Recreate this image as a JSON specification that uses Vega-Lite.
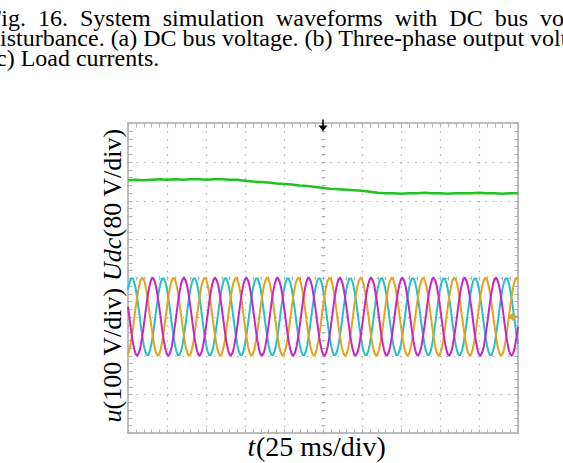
{
"$schema": "https://vega.github.io/schema/vega-lite/v6.json",
"width": 390, "height": 310,
"autosize": "none",
"padding": {"left": 128, "top": 123, "right": 45, "bottom": 30},
"background": "white",
"title": {"text": ["Fig. \u00a016. \u00a0System \u00a0simulation \u00a0waveforms \u00a0with \u00a0DC \u00a0bus \u00a0voltage", "disturbance. (a) DC bus voltage. (b) Three-phase output voltages.", "(c) Load currents."], "anchor": "start", "frame": "group", "dx": -140, "offset": 30, "font": "Liberation Serif", "fontSize": 24, "fontWeight": "normal", "color": "#000000", "lineHeight": 20, "baseline": "alphabetic"},
"config": {
  "view": {"stroke": "#bdbdbd", "strokeWidth": 2},
  "axis": {"labels": false, "domain": false, "grid": false, "ticks": true, "tickColor": "#b3b3b3", "tickSize": 4, "tickWidth": 1, "titleFont": "Liberation Serif", "titleFontSize": 26, "titleFontWeight": "normal", "titleColor": "#000000", "gridColor": "#b3b3b3", "gridDash": [1.5, 6.25], "gridWidth": 1.2}
},
"resolve": {"scale": {"y": "independent"}, "axis": {"x": "independent", "y": "independent"}},
"layer": [
{
 "data": {"values": [
{"t":0,"a":71,"b":-97,"c":26},{"t":1,"a":89,"b":-84,"c":-5},{"t":2,"a":99,"b":-63,"c":-36},{"t":3,"a":99,"b":-36,"c":-63},{"t":4,"a":89,"b":-5,"c":-84},{"t":5,"a":71,"b":26,"c":-97},{"t":6,"a":45,"b":54,"c":-100},{"t":7,"a":16,"b":78,"c":-93},{"t":8,"a":-16,"b":93,"c":-78},{"t":9,"a":-45,"b":100,"c":-54},{"t":10,"a":-71,"b":97,"c":-26},{"t":11,"a":-89,"b":84,"c":5},{"t":12,"a":-99,"b":63,"c":36},{"t":13,"a":-99,"b":36,"c":63},{"t":14,"a":-89,"b":5,"c":84},{"t":15,"a":-71,"b":-26,"c":97},{"t":16,"a":-45,"b":-54,"c":100},{"t":17,"a":-16,"b":-78,"c":93},{"t":18,"a":16,"b":-93,"c":78},{"t":19,"a":45,"b":-100,"c":54},
{"t":20,"a":71,"b":-97,"c":26},{"t":21,"a":89,"b":-84,"c":-5},{"t":22,"a":99,"b":-63,"c":-36},{"t":23,"a":99,"b":-36,"c":-63},{"t":24,"a":89,"b":-5,"c":-84},{"t":25,"a":71,"b":26,"c":-97},{"t":26,"a":45,"b":54,"c":-100},{"t":27,"a":16,"b":78,"c":-93},{"t":28,"a":-16,"b":93,"c":-78},{"t":29,"a":-45,"b":100,"c":-54},{"t":30,"a":-71,"b":97,"c":-26},{"t":31,"a":-89,"b":84,"c":5},{"t":32,"a":-99,"b":63,"c":36},{"t":33,"a":-99,"b":36,"c":63},{"t":34,"a":-89,"b":5,"c":84},{"t":35,"a":-71,"b":-26,"c":97},{"t":36,"a":-45,"b":-54,"c":100},{"t":37,"a":-16,"b":-78,"c":93},{"t":38,"a":16,"b":-93,"c":78},{"t":39,"a":45,"b":-100,"c":54},
{"t":40,"a":71,"b":-97,"c":26},{"t":41,"a":89,"b":-84,"c":-5},{"t":42,"a":99,"b":-63,"c":-36},{"t":43,"a":99,"b":-36,"c":-63},{"t":44,"a":89,"b":-5,"c":-84},{"t":45,"a":71,"b":26,"c":-97},{"t":46,"a":45,"b":54,"c":-100},{"t":47,"a":16,"b":78,"c":-93},{"t":48,"a":-16,"b":93,"c":-78},{"t":49,"a":-45,"b":100,"c":-54},{"t":50,"a":-71,"b":97,"c":-26},{"t":51,"a":-89,"b":84,"c":5},{"t":52,"a":-99,"b":63,"c":36},{"t":53,"a":-99,"b":36,"c":63},{"t":54,"a":-89,"b":5,"c":84},{"t":55,"a":-71,"b":-26,"c":97},{"t":56,"a":-45,"b":-54,"c":100},{"t":57,"a":-16,"b":-78,"c":93},{"t":58,"a":16,"b":-93,"c":78},{"t":59,"a":45,"b":-100,"c":54},
{"t":60,"a":71,"b":-97,"c":26},{"t":61,"a":89,"b":-84,"c":-5},{"t":62,"a":99,"b":-63,"c":-36},{"t":63,"a":99,"b":-36,"c":-63},{"t":64,"a":89,"b":-5,"c":-84},{"t":65,"a":71,"b":26,"c":-97},{"t":66,"a":45,"b":54,"c":-100},{"t":67,"a":16,"b":78,"c":-93},{"t":68,"a":-16,"b":93,"c":-78},{"t":69,"a":-45,"b":100,"c":-54},{"t":70,"a":-71,"b":97,"c":-26},{"t":71,"a":-89,"b":84,"c":5},{"t":72,"a":-99,"b":63,"c":36},{"t":73,"a":-99,"b":36,"c":63},{"t":74,"a":-89,"b":5,"c":84},{"t":75,"a":-71,"b":-26,"c":97},{"t":76,"a":-45,"b":-54,"c":100},{"t":77,"a":-16,"b":-78,"c":93},{"t":78,"a":16,"b":-93,"c":78},{"t":79,"a":45,"b":-100,"c":54},
{"t":80,"a":71,"b":-97,"c":26},{"t":81,"a":89,"b":-84,"c":-5},{"t":82,"a":99,"b":-63,"c":-36},{"t":83,"a":99,"b":-36,"c":-63},{"t":84,"a":89,"b":-5,"c":-84},{"t":85,"a":71,"b":26,"c":-97},{"t":86,"a":45,"b":54,"c":-100},{"t":87,"a":16,"b":78,"c":-93},{"t":88,"a":-16,"b":93,"c":-78},{"t":89,"a":-45,"b":100,"c":-54},{"t":90,"a":-71,"b":97,"c":-26},{"t":91,"a":-89,"b":84,"c":5},{"t":92,"a":-99,"b":63,"c":36},{"t":93,"a":-99,"b":36,"c":63},{"t":94,"a":-89,"b":5,"c":84},{"t":95,"a":-71,"b":-26,"c":97},{"t":96,"a":-45,"b":-54,"c":100},{"t":97,"a":-16,"b":-78,"c":93},{"t":98,"a":16,"b":-93,"c":78},{"t":99,"a":45,"b":-100,"c":54},
{"t":100,"a":71,"b":-97,"c":26},{"t":101,"a":89,"b":-84,"c":-5},{"t":102,"a":99,"b":-63,"c":-36},{"t":103,"a":99,"b":-36,"c":-63},{"t":104,"a":89,"b":-5,"c":-84},{"t":105,"a":71,"b":26,"c":-97},{"t":106,"a":45,"b":54,"c":-100},{"t":107,"a":16,"b":78,"c":-93},{"t":108,"a":-16,"b":93,"c":-78},{"t":109,"a":-45,"b":100,"c":-54},{"t":110,"a":-71,"b":97,"c":-26},{"t":111,"a":-89,"b":84,"c":5},{"t":112,"a":-99,"b":63,"c":36},{"t":113,"a":-99,"b":36,"c":63},{"t":114,"a":-89,"b":5,"c":84},{"t":115,"a":-71,"b":-26,"c":97},{"t":116,"a":-45,"b":-54,"c":100},{"t":117,"a":-16,"b":-78,"c":93},{"t":118,"a":16,"b":-93,"c":78},{"t":119,"a":45,"b":-100,"c":54},
{"t":120,"a":71,"b":-97,"c":26},{"t":121,"a":89,"b":-84,"c":-5},{"t":122,"a":99,"b":-63,"c":-36},{"t":123,"a":99,"b":-36,"c":-63},{"t":124,"a":89,"b":-5,"c":-84},{"t":125,"a":71,"b":26,"c":-97},{"t":126,"a":45,"b":54,"c":-100},{"t":127,"a":16,"b":78,"c":-93},{"t":128,"a":-16,"b":93,"c":-78},{"t":129,"a":-45,"b":100,"c":-54},{"t":130,"a":-71,"b":97,"c":-26},{"t":131,"a":-89,"b":84,"c":5},{"t":132,"a":-99,"b":63,"c":36},{"t":133,"a":-99,"b":36,"c":63},{"t":134,"a":-89,"b":5,"c":84},{"t":135,"a":-71,"b":-26,"c":97},{"t":136,"a":-45,"b":-54,"c":100},{"t":137,"a":-16,"b":-78,"c":93},{"t":138,"a":16,"b":-93,"c":78},{"t":139,"a":45,"b":-100,"c":54},
{"t":140,"a":71,"b":-97,"c":26},{"t":141,"a":89,"b":-84,"c":-5},{"t":142,"a":99,"b":-63,"c":-36},{"t":143,"a":99,"b":-36,"c":-63},{"t":144,"a":89,"b":-5,"c":-84},{"t":145,"a":71,"b":26,"c":-97},{"t":146,"a":45,"b":54,"c":-100},{"t":147,"a":16,"b":78,"c":-93},{"t":148,"a":-16,"b":93,"c":-78},{"t":149,"a":-45,"b":100,"c":-54},{"t":150,"a":-71,"b":97,"c":-26},{"t":151,"a":-89,"b":84,"c":5},{"t":152,"a":-99,"b":63,"c":36},{"t":153,"a":-99,"b":36,"c":63},{"t":154,"a":-89,"b":5,"c":84},{"t":155,"a":-71,"b":-26,"c":97},{"t":156,"a":-45,"b":-54,"c":100},{"t":157,"a":-16,"b":-78,"c":93},{"t":158,"a":16,"b":-93,"c":78},{"t":159,"a":45,"b":-100,"c":54},
{"t":160,"a":71,"b":-97,"c":26},{"t":161,"a":89,"b":-84,"c":-5},{"t":162,"a":99,"b":-63,"c":-36},{"t":163,"a":99,"b":-36,"c":-63},{"t":164,"a":89,"b":-5,"c":-84},{"t":165,"a":71,"b":26,"c":-97},{"t":166,"a":45,"b":54,"c":-100},{"t":167,"a":16,"b":78,"c":-93},{"t":168,"a":-16,"b":93,"c":-78},{"t":169,"a":-45,"b":100,"c":-54},{"t":170,"a":-71,"b":97,"c":-26},{"t":171,"a":-89,"b":84,"c":5},{"t":172,"a":-99,"b":63,"c":36},{"t":173,"a":-99,"b":36,"c":63},{"t":174,"a":-89,"b":5,"c":84},{"t":175,"a":-71,"b":-26,"c":97},{"t":176,"a":-45,"b":-54,"c":100},{"t":177,"a":-16,"b":-78,"c":93},{"t":178,"a":16,"b":-93,"c":78},{"t":179,"a":45,"b":-100,"c":54},
{"t":180,"a":71,"b":-97,"c":26},{"t":181,"a":89,"b":-84,"c":-5},{"t":182,"a":99,"b":-63,"c":-36},{"t":183,"a":99,"b":-36,"c":-63},{"t":184,"a":89,"b":-5,"c":-84},{"t":185,"a":71,"b":26,"c":-97},{"t":186,"a":45,"b":54,"c":-100},{"t":187,"a":16,"b":78,"c":-93},{"t":188,"a":-16,"b":93,"c":-78},{"t":189,"a":-45,"b":100,"c":-54},{"t":190,"a":-71,"b":97,"c":-26},{"t":191,"a":-89,"b":84,"c":5},{"t":192,"a":-99,"b":63,"c":36},{"t":193,"a":-99,"b":36,"c":63},{"t":194,"a":-89,"b":5,"c":84},{"t":195,"a":-71,"b":-26,"c":97},{"t":196,"a":-45,"b":-54,"c":100},{"t":197,"a":-16,"b":-78,"c":93},{"t":198,"a":16,"b":-93,"c":78},{"t":199,"a":45,"b":-100,"c":54},
{"t":200,"a":71,"b":-97,"c":26},{"t":201,"a":89,"b":-84,"c":-5},{"t":202,"a":99,"b":-63,"c":-36},{"t":203,"a":99,"b":-36,"c":-63},{"t":204,"a":89,"b":-5,"c":-84},{"t":205,"a":71,"b":26,"c":-97},{"t":206,"a":45,"b":54,"c":-100},{"t":207,"a":16,"b":78,"c":-93},{"t":208,"a":-16,"b":93,"c":-78},{"t":209,"a":-45,"b":100,"c":-54},{"t":210,"a":-71,"b":97,"c":-26},{"t":211,"a":-89,"b":84,"c":5},{"t":212,"a":-99,"b":63,"c":36},{"t":213,"a":-99,"b":36,"c":63},{"t":214,"a":-89,"b":5,"c":84},{"t":215,"a":-71,"b":-26,"c":97},{"t":216,"a":-45,"b":-54,"c":100},{"t":217,"a":-16,"b":-78,"c":93},{"t":218,"a":16,"b":-93,"c":78},{"t":219,"a":45,"b":-100,"c":54},
{"t":220,"a":71,"b":-97,"c":26},{"t":221,"a":89,"b":-84,"c":-5},{"t":222,"a":99,"b":-63,"c":-36},{"t":223,"a":99,"b":-36,"c":-63},{"t":224,"a":89,"b":-5,"c":-84},{"t":225,"a":71,"b":26,"c":-97},{"t":226,"a":45,"b":54,"c":-100},{"t":227,"a":16,"b":78,"c":-93},{"t":228,"a":-16,"b":93,"c":-78},{"t":229,"a":-45,"b":100,"c":-54},{"t":230,"a":-71,"b":97,"c":-26},{"t":231,"a":-89,"b":84,"c":5},{"t":232,"a":-99,"b":63,"c":36},{"t":233,"a":-99,"b":36,"c":63},{"t":234,"a":-89,"b":5,"c":84},{"t":235,"a":-71,"b":-26,"c":97},{"t":236,"a":-45,"b":-54,"c":100},{"t":237,"a":-16,"b":-78,"c":93},{"t":238,"a":16,"b":-93,"c":78},{"t":239,"a":45,"b":-100,"c":54},
{"t":240,"a":71,"b":-97,"c":26},{"t":241,"a":89,"b":-84,"c":-5},{"t":242,"a":99,"b":-63,"c":-36},{"t":243,"a":99,"b":-36,"c":-63},{"t":244,"a":89,"b":-5,"c":-84},{"t":245,"a":71,"b":26,"c":-97},{"t":246,"a":45,"b":54,"c":-100},{"t":247,"a":16,"b":78,"c":-93},{"t":248,"a":-16,"b":93,"c":-78},{"t":249,"a":-45,"b":100,"c":-54},{"t":250,"a":-71,"b":97,"c":-26}
 ]},
 "transform": [{"fold": ["a", "b", "c"], "as": ["phase", "u"]}],
 "mark": {"type": "line", "strokeWidth": 2},
 "encoding": {
  "x": {"field": "t", "type": "quantitative", "scale": {"domain": [0, 250], "nice": false, "zero": false},
   "axis": {"orient": "bottom", "values": [0,25,50,75,100,125,150,175,200,225,250], "grid": true, "ticks": false, "title": "t", "titleFontStyle": "italic", "titleFontSize": 28, "titleX": 119, "titleY": 22.5, "titleAlign": "left", "titleBaseline": "alphabetic"}},
  "y": {"field": "u", "type": "quantitative", "scale": {"domain": [-300, 500], "nice": false, "zero": false},
   "axis": {"orient": "left", "values": [-300,-200,-100,0,100,200,300,400,500], "grid": true, "ticks": false, "title": "u", "titleFontStyle": "italic", "titleAngle": 270, "titleX": -8, "titleY": 299, "titleAlign": "left", "titleBaseline": "alphabetic"}},
  "color": {"field": "phase", "type": "nominal", "scale": {"domain": ["a", "b", "c"], "range": ["#22c3c6", "#e6a21a", "#c824c8"]}, "legend": null}
 }
},
{
 "data": {"values": [
{"t":0,"udc":202},{"t":5,"udc":203},{"t":10,"udc":202},{"t":15,"udc":203},{"t":20,"udc":204},{"t":25,"udc":203},{"t":30,"udc":204},{"t":35,"udc":203},{"t":40,"udc":204},{"t":45,"udc":204},{"t":50,"udc":203},{"t":55,"udc":204},{"t":60,"udc":204},{"t":65,"udc":203},{"t":70,"udc":203},{"t":75,"udc":201},{"t":80,"udc":199},{"t":85,"udc":198},{"t":90,"udc":197},{"t":95,"udc":195},{"t":100,"udc":194},{"t":105,"udc":193},{"t":110,"udc":191},{"t":115,"udc":190},{"t":120,"udc":188},{"t":125,"udc":186},{"t":130,"udc":184},{"t":135,"udc":183},{"t":140,"udc":182},{"t":145,"udc":181},{"t":150,"udc":180},{"t":155,"udc":178},{"t":160,"udc":176},{"t":165,"udc":175},{"t":170,"udc":175},{"t":175,"udc":174},{"t":180,"udc":175},{"t":185,"udc":175},{"t":190,"udc":176},{"t":195,"udc":175},{"t":200,"udc":175},{"t":205,"udc":174},{"t":210,"udc":175},{"t":215,"udc":175},{"t":220,"udc":175},{"t":225,"udc":176},{"t":230,"udc":175},{"t":235,"udc":175},{"t":240,"udc":174},{"t":245,"udc":175},{"t":250,"udc":175}
 ]},
 "mark": {"type": "line", "color": "#1ec41e", "strokeWidth": 2.5},
 "encoding": {
  "x": {"field": "t", "type": "quantitative", "scale": {"domain": [0, 250], "nice": false, "zero": false},
   "axis": {"orient": "bottom", "offset": -310, "values": [0,5,10,15,20,25,30,35,40,45,50,55,60,65,70,75,80,85,90,95,100,105,110,115,120,125,130,135,140,145,150,155,160,165,170,175,180,185,190,195,200,205,210,215,220,225,230,235,240,245,250], "title": null}},
  "y": {"field": "udc", "type": "quantitative", "scale": {"domain": [-320, 320], "nice": false, "zero": false},
   "axis": {"orient": "right", "offset": -390, "values": [-320,-304,-288,-272,-256,-240,-224,-208,-192,-176,-160,-144,-128,-112,-96,-80,-64,-48,-32,-16,0,16,32,48,64,80,96,112,128,144,160,176,192,208,224,240,256,272,288,304,320], "title": "Udc", "titleFontStyle": "italic", "titleAngle": 270, "titleX": -8, "titleY": 157.5, "titleAlign": "left", "titleBaseline": "alphabetic"}}
 }
},
{
 "data": {"values": [{"marker": "trigger"}]},
 "mark": {"type": "point", "shape": "M-0.12,-1L0.12,-1L0.12,-0.1L0.7,-0.1L0,0.8L-0.7,-0.1L-0.12,-0.1Z", "filled": true, "color": "#000000", "size": 169, "opacity": 1},
 "encoding": {
  "x": {"datum": 125, "type": "quantitative", "scale": {"domain": [0, 250], "nice": false, "zero": false},
   "axis": {"orient": "top", "offset": -310, "values": [0,5,10,15,20,25,30,35,40,45,50,55,60,65,70,75,80,85,90,95,100,105,110,115,120,125,130,135,140,145,150,155,160,165,170,175,180,185,190,195,200,205,210,215,220,225,230,235,240,245,250], "title": "(25 ms/div)", "titleFontSize": 28, "titleX": 127.5, "titleY": 22.5, "titleAlign": "left", "titleBaseline": "alphabetic"}},
  "y": {"datum": 492, "type": "quantitative", "scale": {"domain": [-300, 500], "nice": false, "zero": false},
   "axis": {"orient": "left", "offset": -390, "values": [-300,-280,-260,-240,-220,-200,-180,-160,-140,-120,-100,-80,-60,-40,-20,0,20,40,60,80,100,120,140,160,180,200,220,240,260,280,300,320,340,360,380,400,420,440,460,480,500], "title": "(100 V/div)", "titleAngle": 270, "titleX": -398, "titleY": 286, "titleAlign": "left", "titleBaseline": "alphabetic"}}
 }
},
{
 "data": {"values": [{"marker": "ground reference"}]},
 "mark": {"type": "point", "shape": "M-1,0L-0.45,-0.45L-0.45,-0.12L0,-0.12L0,0.12L-0.45,0.12L-0.45,0.45Z", "filled": true, "color": "#e6a21a", "size": 400, "opacity": 1},
 "encoding": {
  "x": {"datum": 250, "type": "quantitative", "scale": {"domain": [0, 250], "nice": false, "zero": false},
   "axis": {"orient": "bottom", "offset": -157, "values": [0,5,10,15,20,25,30,35,40,45,50,55,60,65,70,75,80,85,90,95,100,105,110,115,120,125,130,135,140,145,150,155,160,165,170,175,180,185,190,195,200,205,210,215,220,225,230,235,240,245,250], "title": null}},
  "y": {"datum": 0, "type": "quantitative", "scale": {"domain": [-300, 500], "nice": false, "zero": false},
   "axis": {"orient": "left", "offset": -197, "values": [-300,-280,-260,-240,-220,-200,-180,-160,-140,-120,-100,-80,-60,-40,-20,0,20,40,60,80,100,120,140,160,180,200,220,240,260,280,300,320,340,360,380,400,420,440,460,480,500], "title": "(80 V/div)", "titleAngle": 270, "titleX": -205, "titleY": 114, "titleAlign": "left", "titleBaseline": "alphabetic"}}
 }
}
]
}
